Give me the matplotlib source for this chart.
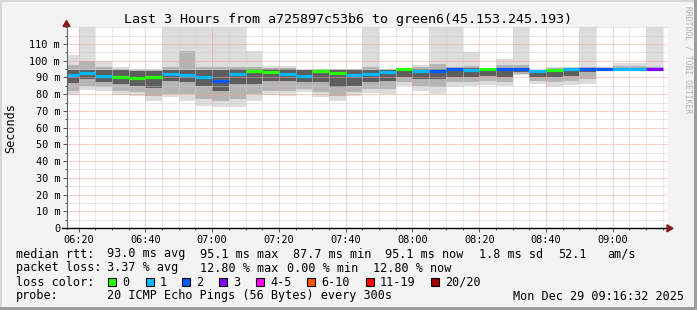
import pandas as pd
import matplotlib.pyplot as plt
import matplotlib.dates as mdates
from matplotlib.patches import Rectangle, Polygon
from matplotlib.lines import Line2D
from matplotlib.ticker import FixedLocator, MultipleLocator

# 5 minute steps (end time of each step), smoke ping data in ms
times = ["06:20", "06:25", "06:30", "06:35", "06:40", "06:45", "06:50", "06:55",
         "07:00", "07:05", "07:10", "07:15", "07:20", "07:25", "07:30", "07:35",
         "07:40", "07:45", "07:50", "07:55", "08:00", "08:05", "08:10", "08:15",
         "08:20", "08:25", "08:30", "08:35", "08:40", "08:45", "08:50", "08:55",
         "09:00", "09:05", "09:10", "09:15"]
median = [91.6, 92.6, 90.6, 90.4, 89.8, 90.4, 92.2, 91.2, 90.4, 87.7, 92.2, 94.0,
          93.0, 92.2, 91.0, 93.6, 92.4, 91.2, 91.8, 93.0, 95.0, 93.6, 93.6, 95.0,
          94.2, 95.0, 95.0, 95.0, 93.6, 94.2, 95.0, 95.0, 95.1, 95.1, 95.1, 95.1]
loss = [1, 1, 1, 0, 0, 0, 1, 1, 1, 2, 1, 0, 0, 1, 1, 0, 0, 1, 1, 1, 0, 1, 2, 2,
        1, 0, 2, 2, 1, 0, 1, 2, 2, 1, 1, 3]
# outer smoke (lightest)
smoke_hi = [103.6, 120, 99.6, 96, 95, 95, 120, 120, 120, 120, 120, 105.6,
            96.6, 96.6, 95, 95, 95, 95, 120, 95, 95.6, 97.6, 120, 120,
            105, 95.6, 101.2, 120, 94.6, 96, 96, 120, 96, 98.6, 98.6, 120]
smoke_lo = [79.2, 82.6, 81.6, 79.6, 79, 76, 78, 76, 73, 72.6, 72.6, 76,
            79.6, 79, 81, 78, 76, 78.6, 80.6, 80, 84.6, 81.6, 80, 84,
            84.6, 85.6, 85, 91.2, 86.2, 84, 85.6, 86.2, 95.1, 95.1, 95.1, 95.1]
# middle smoke
mid_hi = [97.2, 100, 96, 95, 94.6, 94.6, 96, 106, 96, 96, 96, 96,
          95.6, 95.6, 94.6, 95, 95, 95, 96, 95, 95.6, 96.5, 98.2, 96.5,
          97, 95.6, 97.5, 97.2, 94.6, 95.6, 95.8, 96, 95.6, 97, 97, 96.5]
mid_lo = [81.6, 85, 84, 82, 81, 79, 80, 80, 77, 76, 77, 80,
          82, 82, 83, 81, 79, 81, 83, 83, 87, 85, 84, 87,
          87, 88, 87, 92, 88, 87, 88, 89, 95.1, 95.1, 95.1, 95.1]
# dense smoke close to the median
dark_hi = [94.6, 94.6, 94.6, 94.6, 94, 94, 94.6, 94.6, 94.6, 94.6, 95, 95,
           95, 95, 94.2, 94.6, 94.6, 94.6, 94.6, 94.6, 95.4, 95, 95, 95.6,
           95.6, 95.6, 95.6, 95.6, 94.6, 95, 95.6, 95.6, 95.4, 95.6, 95.6, 95.6]
dark_lo = [86.6, 89, 87, 86, 85, 83.6, 88, 87, 85, 82, 86, 86,
           88, 88, 87, 87, 84, 85, 87, 88, 90, 89, 89, 90,
           90, 91, 90, 93, 90, 90, 91, 93, 95.1, 95.1, 95.1, 95.1]

loss_colors = {0: '#26ff00', 1: '#00b8ff', 2: '#0059ff', 3: '#7e00ff'}
legend_labels = ['0', '1', '2', '3', '4-5', '6-10', '11-19', '20/20']
legend_colors = ['#26ff00', '#00b8ff', '#0059ff', '#7e00ff', '#ff00ff',
                 '#ff5500', '#ff0000', '#a10000']

W, H = 697, 310
MONO = 'DejaVu Sans Mono'


def fx(x, y):
    return (x / W, 1 - y / H)


fig = plt.figure(figsize=(W / 100, H / 100), dpi=100, facecolor='#f3f3f3')
ax = fig.add_axes([67 / W, (H - 228) / H, 601 / W, 200.8 / H])
ax.set_facecolor('white')

end = pd.to_datetime(['2025-12-29 ' + t for t in times])
step = pd.Timedelta(minutes=5)
x0 = mdates.date2num(end - step)
wid = 5 / 1440

hi = pd.Series(smoke_hi)
lo = pd.Series(smoke_lo)
ax.bar(x0, hi - lo, wid, bottom=lo, align='edge', color='#dcdcdc', lw=0, zorder=1)
ax.bar(x0, pd.Series(mid_hi) - pd.Series(mid_lo), wid, bottom=mid_lo,
       align='edge', color='#b4b4b4', lw=0, zorder=1.1)
ax.bar(x0, pd.Series(dark_hi) - pd.Series(dark_lo), wid, bottom=dark_lo,
       align='edge', color='#5e5e5e', lw=0, zorder=1.2)
ax.hlines(median, x0, x0 + wid, colors=[loss_colors[l] for l in loss],
          lw=2.3, zorder=3)

ax.set_xlim(mdates.date2num(pd.Timestamp('2025-12-29 06:16:32')),
            mdates.date2num(pd.Timestamp('2025-12-29 09:16:32')))
ax.set_ylim(0, 120)

ax.xaxis.set_major_locator(mdates.MinuteLocator(byminute=[0, 20, 40]))
ax.xaxis.set_minor_locator(mdates.MinuteLocator(byminute=range(0, 60, 5)))
ax.xaxis.set_major_formatter(mdates.DateFormatter('%H:%M'))
ax.yaxis.set_major_locator(FixedLocator(range(0, 111, 10)))
ax.yaxis.set_minor_locator(MultipleLocator(5))
ax.set_yticklabels(['0'] + [f'{v} m' for v in range(10, 111, 10)])

ax.set_axisbelow(False)
ax.grid(which='minor', color='#cfcfcf', linestyle=(0, (1, 1)), lw=0.72)
ax.grid(which='major', color='#f2a0a0', linestyle=(0, (1, 1)), lw=0.72)
ax.tick_params(which='major', length=3, width=0.7, color='#555555', pad=2,
               labelsize=7.4)
ax.tick_params(which='minor', length=1.5, width=0.7, color='#555555')
for lab in ax.get_xticklabels() + ax.get_yticklabels():
    lab.set_family(MONO)
for s in ax.spines.values():
    s.set_visible(False)

# axes with arrows
fig.add_artist(Line2D([66.5 / W, 66.5 / W], [1 - 229 / H, 1 - 26 / H], color='#606060', lw=0.8))
fig.add_artist(Line2D([62 / W, 667 / W], [1 - 228.3 / H, 1 - 228.3 / H], color='black', lw=1))
fig.add_artist(Polygon([fx(63, 26.5), fx(70, 26.5), fx(66.5, 20.5)], closed=True,
                       color='#8b1a1a', transform=fig.transFigure))
fig.add_artist(Polygon([fx(667, 224.8), fx(667, 231.8), fx(673, 228.3)], closed=True,
                       color='#8b1a1a', transform=fig.transFigure))

# frame
for (x, y, w, h, c) in [(0, 0, W, 2, '#d6d6d6'), (0, 0, 2, H, '#d6d6d6'),
                        (0, H - 3, W, 3, '#9c9c9c'), (W - 3, 0, 3, H, '#9c9c9c')]:
    fig.add_artist(Rectangle(fx(x, y + h), w / W, h / H, transform=fig.transFigure,
                             color=c, lw=0))


def txt(x, y, s, **kw):
    kw.setdefault('size', 8.5)
    kw.setdefault('family', MONO)
    fig.text(x / W, 1 - y / H, s, va='center', **kw)


txt(348, 19, 'Last 3 Hours from a725897c53b6 to green6(45.153.245.193)',
    ha='center', size=9.6)
txt(11, 128, 'Seconds', rotation=90, ha='center')
txt(688, 60, 'RRDTOOL / TOBI OETIKER', rotation=270, ha='center', size=5.8,
    color='#b0b0b0')

rows = [
    (254, [(16, 'median rtt:'), (107, '93.0 ms avg'), (200, '95.1 ms max'),
           (293, '87.7 ms min'), (385, '95.1 ms now'), (479, '1.8 ms sd'),
           (558, '52.1'), (607, 'am/s')]),
    (268, [(16, 'packet loss:'), (107, '3.37 % avg'), (200, '12.80 % max'),
           (287, '0.00 % min'), (373, '12.80 % now')]),
    (282, [(16, 'loss color:')]),
    (296, [(16, 'probe:'), (107, '20 ICMP Echo Pings (56 Bytes) every 300s'),
           (513, 'Mon Dec 29 09:16:32 2025')]),
]
for y, items in rows:
    for x, s in items:
        txt(x, y, s)

box_x = [108, 146, 182, 219, 256, 307, 366, 431]
for bx, lab, c in zip(box_x, legend_labels, legend_colors):
    fig.add_artist(Rectangle(fx(bx, 286), 8 / W, 8 / H, transform=fig.transFigure,
                             facecolor=c, edgecolor='black', lw=0.8))
    txt(bx + 14, 282, lab)

fig.savefig('out.png', dpi=100, facecolor=fig.get_facecolor())
